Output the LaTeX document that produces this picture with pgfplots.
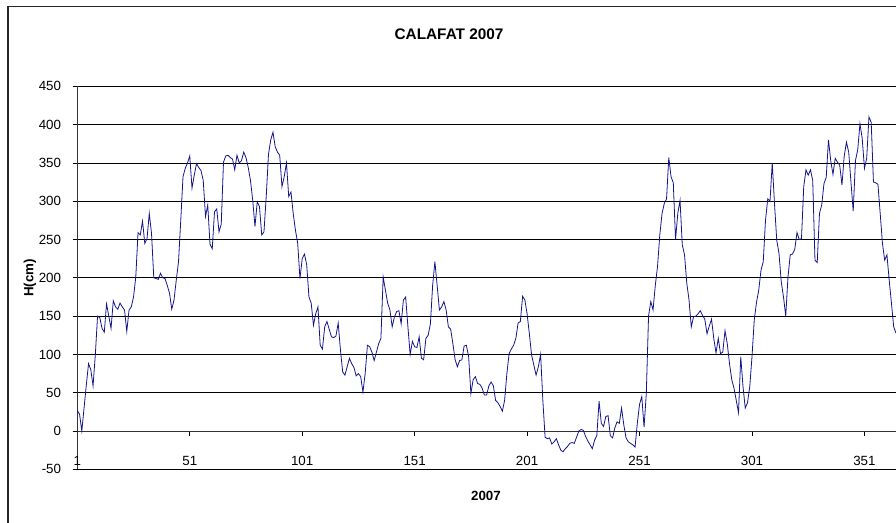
\documentclass[border=0pt]{standalone}
\usepackage{fontspec}
\setmainfont{Liberation Sans}
\usepackage{pgfplots}
\pgfplotsset{compat=1.18}
\definecolor{linenavy}{RGB}{20,20,140}
\begin{document}
\begin{tikzpicture}[x=1pt,y=1pt]
\useasboundingbox (-57.98,-39.5) rectangle (614,352);
\begin{axis}[
  at={(0pt,0pt)}, anchor=south west,
  scale only axis, width=613.95pt, height=287.3pt,
  xmin=1, xmax=365, ymin=-50, ymax=450,
  axis x line=middle, axis y line=left,
  axis line style={-, line width=0.6pt, black!80},
  hide obscured x ticks=false, hide obscured y ticks=false,
  xtick={1,51,101,151,201,251,301,351},
  xticklabels={1,51,101,151,201,251,301,351},
  ytick={-50,0,50,100,150,200,250,300,350,400,450},
  yticklabels={-50,0,50,100,150,200,250,300,350,400,450},
  tick align=outside, major tick length=3.5pt,
  tick style={black, line width=0.5pt},
  ymajorgrids, grid style={black, line width=0.55pt},
  xticklabel style={anchor=center, inner sep=0pt, yshift=-18.75pt, font=\fontsize{10}{11}\selectfont},
  yticklabel style={anchor=east, inner sep=0pt, xshift=-8.5pt, font=\fontsize{10}{11}\selectfont},
]
\addplot[linenavy, line width=0.6pt, mark=none] coordinates {
(1,27)(2,22)(3,0)(4,30)(5,60)(6,88)(7,80)(8,59)(9,99)(10,150)
(11,148)(12,134)(13,129)(14,166)(15,150)(16,134)(17,170)(18,162)(19,159)(20,167)
(21,162)(22,158)(23,130)(24,158)(25,162)(26,175)(27,201)(28,259)(29,256)(30,274)
(31,245)(32,251)(33,284)(34,258)(35,200)(36,199)(37,198)(38,206)(39,200)(40,199)
(41,190)(42,180)(43,159)(44,171)(45,197)(46,221)(47,275)(48,332)(49,343)(50,350)
(51,359)(52,317)(53,334)(54,349)(55,344)(56,340)(57,327)(58,280)(59,295)(60,244)
(61,238)(62,286)(63,290)(64,260)(65,270)(66,351)(67,359)(68,360)(69,357)(70,355)
(71,341)(72,360)(73,350)(74,353)(75,364)(76,357)(77,344)(78,327)(79,301)(80,267)
(81,299)(82,293)(83,256)(84,260)(85,306)(86,361)(87,380)(88,390)(89,371)(90,364)
(91,360)(92,319)(93,332)(94,350)(95,306)(96,312)(97,284)(98,262)(99,245)(100,199)
(101,225)(102,231)(103,217)(104,175)(105,167)(106,138)(107,153)(108,162)(109,112)(110,107)
(111,136)(112,143)(113,133)(114,123)(115,122)(116,124)(117,141)(118,106)(119,77)(120,73)
(121,84)(122,95)(123,88)(124,83)(125,72)(126,75)(127,71)(128,51)(129,75)(130,112)
(131,110)(132,103)(133,92)(134,103)(135,114)(136,121)(137,201)(138,184)(139,167)(140,158)
(141,136)(142,149)(143,156)(144,157)(145,140)(146,171)(147,175)(148,136)(149,100)(150,117)
(151,110)(152,109)(153,123)(154,95)(155,93)(156,121)(157,125)(158,140)(159,190)(160,221)
(161,190)(162,158)(163,162)(164,169)(165,158)(166,136)(167,133)(168,114)(169,93)(170,84)
(171,92)(172,93)(173,111)(174,112)(175,97)(176,49)(177,67)(178,71)(179,62)(180,61)
(181,56)(182,47)(183,47)(184,59)(185,64)(186,59)(187,40)(188,37)(189,32)(190,26)
(191,40)(192,75)(193,101)(194,107)(195,112)(196,121)(197,141)(198,143)(199,176)(200,171)
(201,153)(202,127)(203,99)(204,86)(205,73)(206,84)(207,100)(208,40)(209,-8)(210,-10)
(211,-9)(212,-17)(213,-14)(214,-10)(215,-18)(216,-25)(217,-27)(218,-23)(219,-20)(220,-16)
(221,-15)(222,-16)(223,-8)(224,0)(225,2)(226,1)(227,-7)(228,-13)(229,-18)(230,-23)
(231,-12)(232,-6)(233,39)(234,10)(235,6)(236,19)(237,20)(238,-6)(239,-9)(240,4)
(241,12)(242,10)(243,30)(244,8)(245,-9)(246,-14)(247,-16)(248,-18)(249,-21)(250,10)
(251,35)(252,45)(253,5)(254,49)(255,150)(256,169)(257,158)(258,190)(259,215)(260,256)
(261,284)(262,297)(263,303)(264,357)(265,332)(266,324)(267,250)(268,284)(269,301)(270,243)
(271,230)(272,193)(273,171)(274,136)(275,149)(276,150)(277,153)(278,157)(279,151)(280,146)
(281,127)(282,137)(283,146)(284,121)(285,102)(286,121)(287,101)(288,103)(289,131)(290,114)
(291,88)(292,67)(293,56)(294,40)(295,24)(296,97)(297,58)(298,30)(299,37)(300,58)
(301,97)(302,145)(303,168)(304,184)(305,210)(306,221)(307,275)(308,303)(309,300)(310,350)
(311,297)(312,249)(313,232)(314,195)(315,175)(316,150)(317,201)(318,230)(319,231)(320,237)
(321,259)(322,250)(323,251)(324,319)(325,341)(326,334)(327,341)(328,327)(329,223)(330,220)
(331,284)(332,295)(333,323)(334,331)(335,380)(336,353)(337,335)(338,356)(339,351)(340,347)
(341,321)(342,359)(343,377)(344,364)(345,325)(346,287)(347,353)(348,367)(349,401)(350,382)
(351,343)(352,356)(353,410)(354,403)(355,325)(356,324)(357,322)(358,284)(359,245)(360,223)
(361,230)(362,197)(363,167)(364,136)(365,128)
};
\end{axis}
\draw[line width=1.1pt, black!85] (-52,-60) -- (-52,347) -- (640,347);
\node[font=\bfseries\fontsize{11.5}{13}\selectfont] at (278.8,326.5) {CALAFAT 2007};
\node[rotate=90, font=\bfseries\fontsize{10}{12}\selectfont] at (-35.5,143.5) {H(cm)};
\node[font=\bfseries\fontsize{10}{12}\selectfont] at (306.5,-20) {2007};
\end{tikzpicture}
\end{document}
